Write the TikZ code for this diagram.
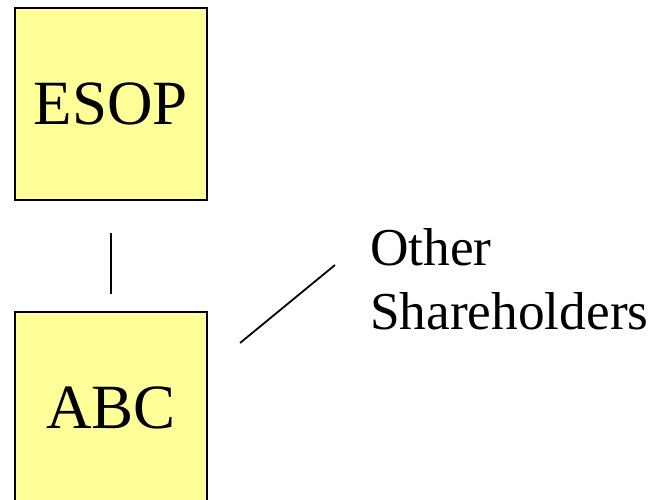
\documentclass[tikz,border=0pt]{standalone}
\usepackage{fontspec}
\setmainfont{Liberation Serif}
\usepackage{tikz}
\definecolor{boxfill}{HTML}{FFFF99}

\begin{document}
\begin{tikzpicture}[x=1pt, y=-1pt,
		entity/.style={draw, fill=boxfill, line width=1.8pt, minimum width=192pt, minimum height=192pt, inner sep=0pt, font=\fontsize{63}{75}\selectfont},
		link/.style={line width=1.8pt}]
		\clip (0,0) rectangle (650,500);

		\node[entity] (esop) at (111,104) {ESOP};
		\node[entity] (abc) at (111,408) {ABC};
		\node[anchor=north west, inner sep=0pt, align=left, font=\fontsize{53.3}{64}\selectfont] (others) at (370,228) {Other\\Shareholders};

		\coordinate (abcend) at (240,343);
		\coordinate (othersend) at (335,265);

		\draw[link, shorten <=32pt, shorten >=17pt] (esop.south) -- (abc.north);
		\draw[link] (abcend) -- (othersend);
	\end{tikzpicture}
\end{document}
